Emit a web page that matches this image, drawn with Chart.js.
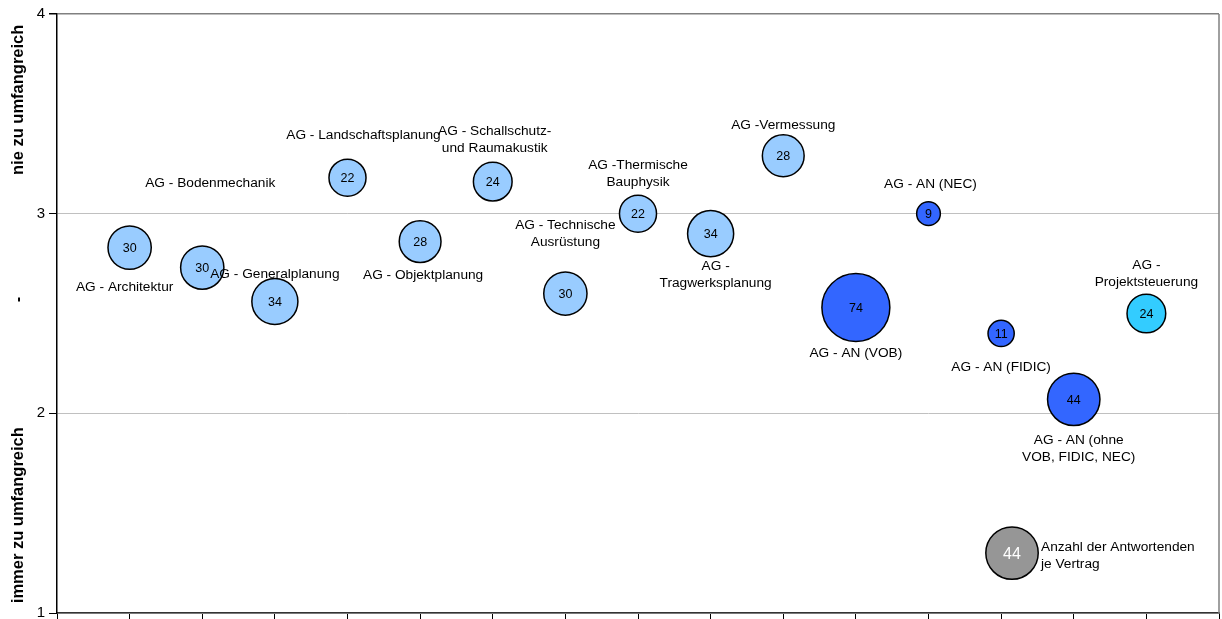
<!DOCTYPE html>
<html>
<head>
<meta charset="utf-8">
<script src="https://cdn.jsdelivr.net/npm/chart.js@4/dist/chart.umd.min.js"></script>
<style>
  html, body { margin: 0; padding: 0; background: #fff; }
  #wrap { width: 1222px; height: 619px; }
</style>
</head>
<body>
<div id="wrap"><canvas id="c" width="1222" height="619"></canvas></div>
<script>
// Contract types (label lines), mean rating and number of respondents
const contracts = [
  ["AG - Architektur"],
  ["AG - Bodenmechanik"],
  ["AG - Generalplanung"],
  ["AG - Landschaftsplanung"],
  ["AG - Objektplanung"],
  ["AG - Schallschutz-", "und Raumakustik"],
  ["AG - Technische", "Ausrüstung"],
  ["AG -Thermische", "Bauphysik"],
  ["AG -", "Tragwerksplanung"],
  ["AG -Vermessung"],
  ["AG - AN (VOB)"],
  ["AG - AN (NEC)"],
  ["AG - AN (FIDIC)"],
  ["AG - AN (ohne", "VOB, FIDIC, NEC)"],
  ["AG -", "Projektsteuerung"]
];
const ratings = [2.83, 2.73, 2.56, 3.18, 2.86, 3.16, 2.60, 3.00, 2.90, 3.29, 2.53, 3.00, 2.40, 2.07, 2.50];
const respondents = [30, 30, 34, 22, 28, 24, 30, 22, 34, 28, 74, 9, 11, 44, 24];
const groups = ["P", "P", "P", "P", "P", "P", "P", "P", "P", "P", "A", "A", "A", "A", "S"];

// Key bubble: "Anzahl der Antwortenden je Vertrag"
const keyText = ["Anzahl der Antwortenden", "je Vertrag"];
const keyPoint = { x: 13.15, y: 1.3, n: 44 };

const yTicks = [1, 2, 3, 4];
const yTitleTop = "nie zu umfangreich";
const yTitleMid = "-";
const yTitleBottom = "immer zu umfangreich";

// Styling
const groupColors = { P: "#99CCFF", A: "#3366FF", S: "#33CCFF" };
const FONT = "'Liberation Sans', Arial, sans-serif";
const radiusFactor = 3.95; // bubble area proportional to respondents

// Label placement (offset of the first line from the bubble centre, px)
const labelOffsets = [
  [-5, 40], [8, -84], [0, -27], [16, -43], [3, 34], [2, -50], [0, -68], [0, -48],
  [5, 33], [0, -31], [0, 46], [2, -29], [0, 34], [5, 41], [0, -48]
];
const lineH = 17;

const points = ratings.map((v, i) => ({ x: i + 1, y: v, n: respondents[i] }));

const labelPlugin = {
  id: "bubbleText",
  afterDatasetsDraw(chart) {
    const ctx = chart.ctx;
    ctx.save();
    // counts inside bubbles
    const meta0 = chart.getDatasetMeta(0);
    ctx.textAlign = "center";
    ctx.textBaseline = "middle";
    meta0.data.forEach((el, i) => {
      ctx.font = "12.5px " + FONT;
      ctx.fillStyle = "#000";
      ctx.fillText(String(respondents[i]), el.x, el.y + 1);
      ctx.font = "13.7px " + FONT;
      const [dx, dy] = labelOffsets[i];
      contracts[i].forEach((line, j) => {
        ctx.fillText(line, el.x + dx, el.y + dy + j * lineH);
      });
    });
    // key bubble
    const meta1 = chart.getDatasetMeta(1);
    const k = meta1.data[0];
    ctx.font = "16px " + FONT;
    ctx.fillStyle = "#fff";
    ctx.fillText(String(keyPoint.n), k.x, k.y + 1);
    ctx.fillStyle = "#000";
    ctx.font = "13.7px " + FONT;
    ctx.textAlign = "left";
    keyText.forEach((line, j) => {
      ctx.fillText(line, k.x + 29, k.y - 6 + j * 17);
    });
    ctx.restore();
  },
  afterDraw(chart) {
    const ctx = chart.ctx;
    const a = chart.chartArea;
    ctx.save();
    // right frame line
    ctx.strokeStyle = "#808080";
    ctx.lineWidth = 1.5;
    ctx.beginPath();
    ctx.moveTo(a.right, a.top);
    ctx.lineTo(a.right, a.bottom);
    ctx.stroke();
    // y-axis title in three parts
    ctx.fillStyle = "#000";
    ctx.font = "bold 16.5px " + FONT;
    ctx.textAlign = "center";
    ctx.textBaseline = "middle";
    const put = (t, y) => {
      ctx.save();
      ctx.translate(18, y);
      ctx.rotate(-Math.PI / 2);
      ctx.fillText(t, 0, 0);
      ctx.restore();
    };
    const ys = chart.scales.y;
    put(yTitleTop, ys.getPixelForValue(3.57));
    put(yTitleMid, ys.getPixelForValue(2.57));
    put(yTitleBottom, ys.getPixelForValue(1.49));
    ctx.restore();
  }
};

new Chart(document.getElementById("c"), {
  type: "bubble",
  data: {
    datasets: [
      {
        data: points,
        backgroundColor: groups.map(g => groupColors[g]),
        borderColor: "#000",
        borderWidth: 1.5,
        radius: c => radiusFactor * Math.sqrt(c.raw.n)
      },
      {
        data: [keyPoint],
        backgroundColor: "#969696",
        borderColor: "#000",
        borderWidth: 1.5,
        radius: c => radiusFactor * Math.sqrt(c.raw.n)
      }
    ]
  },
  options: {
    responsive: false,
    animation: false,
    events: [],
    layout: { autoPadding: false, padding: { top: 14, right: 3, left: 0, bottom: 0 } },
    plugins: { legend: { display: false }, tooltip: { enabled: false } },
    scales: {
      x: {
        type: "linear",
        min: 0,
        max: 16,
        ticks: { stepSize: 1, display: false },
        grid: { drawOnChartArea: false, drawTicks: true, tickLength: 6, tickColor: "#000", tickWidth: 1 },
        border: { color: "#333", width: 1.5 },
        afterFit: s => { s.height = 6; s.paddingLeft = 0; s.paddingRight = 0; }
      },
      y: {
        min: 1,
        max: 4,
        afterBuildTicks: s => { s.ticks = yTicks.map(v => ({ value: v })); },
        ticks: { color: "#000", font: { size: 15, family: FONT }, padding: 4 },
        grid: {
          color: c => (c.tick && c.tick.value === 4 ? "#808080" : "#c0c0c0"),
          lineWidth: c => (c.tick && c.tick.value === 4 ? 1.5 : 1),
          tickColor: "#000",
          tickLength: 8
        },
        border: { color: "#000", width: 1.5 },
        afterFit: s => { s.width = 57; s.paddingTop = 0; s.paddingBottom = 0; }
      }
    }
  },
  plugins: [labelPlugin]
});
</script>
</body>
</html>
